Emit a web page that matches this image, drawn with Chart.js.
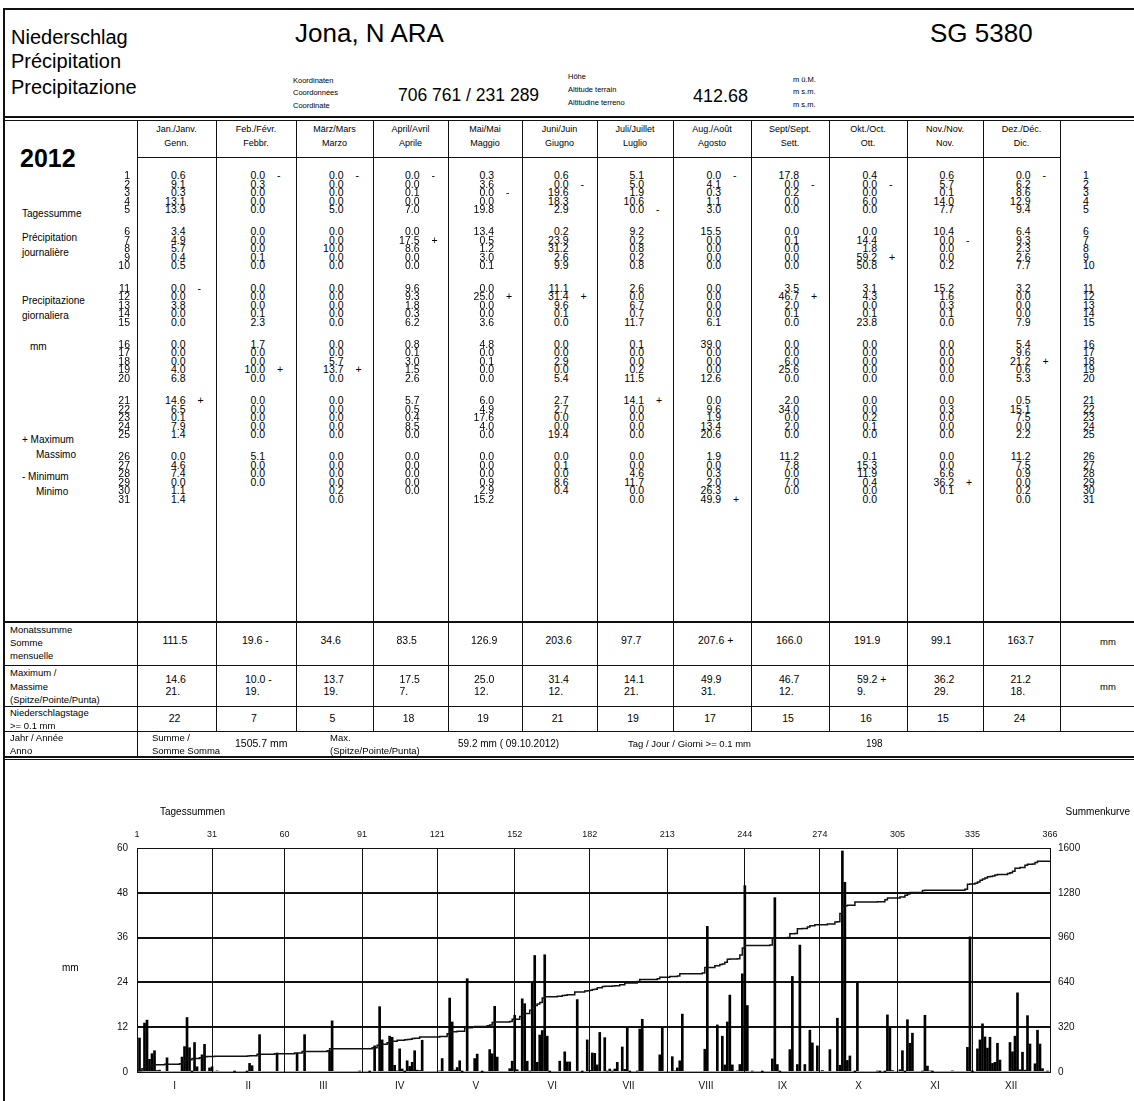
<!DOCTYPE html>
<html>
<head>
<meta charset="utf-8">
<script src="https://cdn.jsdelivr.net/npm/chart.js@4.4.0/dist/chart.umd.min.js"></script>
<style>
  body { margin: 0; background: #fff; }
  #page { position: relative; width: 1134px; height: 1101px; overflow: hidden;
          font-family: 'Liberation Sans', Arial, sans-serif; color: #000; }
  .t { position: absolute; white-space: nowrap; line-height: 1; }
  .l { position: absolute; background: #111; }
  #chartBox { position: absolute; left: 0; top: 770px; width: 1134px; height: 331px; }
</style>
</head>
<body>
<div id="page">
  <div id="chartBox"><canvas id="niederschlagChart" width="1134" height="331"></canvas></div>
</div>
<script>
// Tagessummen 2012 (mm), je Monat
const jan = [0.6, 9.1, 0.3, 13.1, 13.9, 3.4, 4.9, 5.7, 0.4, 0.5, 0.0, 0.0, 3.8, 0.0, 0.0, 0.0, 0.0, 0.0, 4.0, 6.8, 14.6, 6.5, 0.1, 7.9, 1.4, 0.0, 4.6, 7.4, 0.0, 1.1, 1.4];
const feb = [0.0, 0.3, 0.0, 0.0, 0.0, 0.0, 0.0, 0.0, 0.1, 0.0, 0.0, 0.0, 0.0, 0.1, 2.3, 1.7, 0.0, 0.0, 10.0, 0.0, 0.0, 0.0, 0.0, 0.0, 0.0, 5.1, 0.0, 0.0, 0.0];
const mar = [0.0, 0.0, 0.0, 0.0, 5.0, 0.0, 0.0, 10.0, 0.0, 0.0, 0.0, 0.0, 0.0, 0.0, 0.0, 0.0, 0.0, 5.7, 13.7, 0.0, 0.0, 0.0, 0.0, 0.0, 0.0, 0.0, 0.0, 0.0, 0.0, 0.2, 0.0];
const apr = [0.0, 0.0, 0.1, 0.0, 7.0, 0.0, 17.5, 8.6, 0.0, 0.0, 9.6, 9.3, 1.8, 0.3, 6.2, 0.8, 0.1, 3.0, 1.5, 2.6, 5.7, 0.5, 0.4, 8.5, 0.0, 0.0, 0.0, 0.0, 0.0, 0.0];
const may = [0.3, 3.6, 0.0, 0.0, 19.8, 13.4, 0.5, 1.2, 3.0, 0.1, 0.0, 25.0, 0.0, 0.0, 3.6, 4.8, 0.0, 0.1, 0.0, 0.0, 6.0, 4.9, 17.6, 4.0, 0.0, 0.0, 0.0, 0.0, 0.9, 2.9, 15.2];
const jun = [0.6, 0.0, 19.6, 18.3, 2.9, 0.2, 23.9, 31.2, 2.6, 9.9, 11.1, 31.4, 9.6, 0.1, 0.0, 0.0, 0.0, 2.9, 0.0, 5.4, 2.7, 2.7, 0.0, 0.0, 19.4, 0.0, 0.1, 0.0, 8.6, 0.4];
const jul = [5.1, 5.0, 1.9, 10.6, 0.0, 9.2, 0.2, 0.8, 0.2, 0.8, 2.6, 0.0, 6.7, 0.7, 11.7, 0.1, 0.0, 0.0, 0.2, 11.5, 14.1, 0.0, 0.0, 0.0, 0.0, 0.0, 0.0, 4.6, 11.7, 0.0, 0.0];
const aug = [0.0, 4.1, 0.3, 1.1, 3.0, 15.5, 0.0, 0.0, 0.0, 0.0, 0.0, 0.0, 0.0, 0.0, 6.1, 39.0, 0.0, 0.0, 0.0, 12.6, 0.0, 9.6, 1.9, 13.4, 20.6, 1.9, 0.0, 0.3, 2.0, 26.3, 49.9];
const sep = [17.8, 0.0, 0.2, 0.0, 0.0, 0.0, 0.1, 0.0, 0.0, 0.0, 3.5, 46.7, 2.0, 0.1, 0.0, 0.0, 0.0, 6.0, 25.6, 0.0, 2.0, 34.0, 0.0, 2.0, 0.0, 11.2, 7.8, 0.0, 7.0, 0.0];
const oct = [0.4, 0.0, 0.0, 6.0, 0.0, 0.0, 14.4, 1.8, 59.2, 50.8, 3.1, 4.3, 0.0, 0.1, 23.8, 0.0, 0.0, 0.0, 0.0, 0.0, 0.0, 0.0, 0.2, 0.1, 0.0, 0.1, 15.3, 11.9, 0.4, 0.0, 0.0];
const nov = [0.6, 5.7, 0.1, 14.0, 7.7, 10.4, 0.0, 0.0, 0.0, 0.2, 15.2, 1.6, 0.3, 0.1, 0.0, 0.0, 0.0, 0.0, 0.0, 0.0, 0.0, 0.3, 0.0, 0.0, 0.0, 0.0, 0.0, 6.6, 36.2, 0.1];
const dec = [0.0, 6.2, 8.6, 12.9, 9.4, 6.4, 9.3, 2.3, 2.6, 7.7, 3.2, 0.0, 0.0, 0.0, 7.9, 5.4, 9.6, 21.2, 0.6, 5.3, 0.5, 15.1, 7.5, 0.0, 2.2, 11.2, 7.5, 0.9, 0.0, 0.2, 0.0];
const monthValues = [jan, feb, mar, apr, may, jun, jul, aug, sep, oct, nov, dec];

const monthHeads = [
  ['Jan./Janv.', 'Genn.'], ['Feb./Févr.', 'Febbr.'], ['März/Mars', 'Marzo'], ['April/Avril', 'Aprile'],
  ['Mai/Mai', 'Maggio'], ['Juni/Juin', 'Giugno'], ['Juli/Juillet', 'Luglio'], ['Aug./Août', 'Agosto'],
  ['Sept/Sept.', 'Sett.'], ['Okt./Oct.', 'Ott.'], ['Nov./Nov.', 'Nov.'], ['Dez./Déc.', 'Dic.']
];
const monthSums = ['111.5', '19.6', '34.6', '83.5', '126.9', '203.6', '97.7', '207.6', '166.0', '191.9', '99.1', '163.7'];
const monthSumMarks = ['', '-', '', '', '', '', '', '+', '', '', '', ''];
const monthMax = ['14.6', '10.0', '13.7', '17.5', '25.0', '31.4', '14.1', '49.9', '46.7', '59.2', '36.2', '21.2'];
const monthMaxDay = ['21.', '19.', '19.', '7.', '12.', '12.', '21.', '31.', '12.', '9.', '29.', '18.'];
const monthMaxMarks = ['', '-', '', '', '', '', '', '', '', '+', '', ''];
const rainDays = [22, 7, 5, 18, 19, 21, 19, 17, 15, 16, 15, 24];

// Achsen der Grafik
const dayTicks = [1, 31, 60, 91, 121, 152, 182, 213, 244, 274, 305, 335, 366];
const romanLabels = ['I', 'II', 'III', 'IV', 'V', 'VI', 'VII', 'VIII', 'IX', 'X', 'XI', 'XII'];
const leftTicks = [0, 12, 24, 36, 48, 60];
const rightTicks = [0, 320, 640, 960, 1280, 1600];

const page = document.getElementById('page');

function txt(x, y, s, size, align, extra) {
  const d = document.createElement('div');
  d.className = 't';
  d.textContent = s;
  d.style.fontSize = size + 'px';
  d.style.top = (y - size * 0.55) + 'px';
  if (align === 'r') d.style.right = (1134 - x) + 'px';
  else if (align === 'c') { d.style.left = x + 'px'; d.style.transform = 'translateX(-50%)'; }
  else d.style.left = x + 'px';
  if (extra) Object.assign(d.style, extra);
  page.appendChild(d);
}
function line(x, y, w, h) {
  const d = document.createElement('div');
  d.className = 'l';
  Object.assign(d.style, { left: x + 'px', top: y + 'px', width: w + 'px', height: h + 'px' });
  page.appendChild(d);
}

// Rahmen und Kopf
line(3, 8, 1131, 2);
line(3, 8, 2, 1093);
line(3, 116, 1131, 2);
line(3, 120, 1131, 1);

txt(11, 38, 'Niederschlag', 20);
txt(11, 62, 'Précipitation', 20);
txt(11, 88, 'Precipitazione', 20);
txt(295, 34, 'Jona, N ARA', 26);
txt(930, 34, 'SG 5380', 26);
txt(293, 81, 'Koordinaten', 7.5);
txt(293, 93, 'Coordonnées', 7.5);
txt(293, 106, 'Coordinate', 7.5);
txt(398, 97, '706 761 / 231 289', 17.5);
txt(568, 77, 'Höhe', 7.5);
txt(568, 90, 'Altitude terrain', 7.5);
txt(568, 103, 'Altitudine terreno', 7.5);
txt(693, 97, '412.68', 18);
txt(793, 80, 'm ü.M.', 7.5);
txt(793, 92, 'm s.m.', 7.5);
txt(793, 105, 'm s.m.', 7.5);

// Tabelle
const colEdges = [137, 216, 296, 373, 448, 522, 597, 673, 751, 829, 907, 983, 1060];
colEdges.forEach(x => line(x, 120, 1, 612));
line(137, 732, 1, 26);
line(137, 157, 923, 1);

txt(20, 160, '2012', 25, 'l', { fontWeight: 'bold' });

function rowY(d) {
  const g = Math.min(Math.floor((d - 1) / 5), 5);
  return 176 + g * 56.2 + (d - 1 - g * 5) * 8.5;
}
for (let d = 1; d <= 31; d++) {
  txt(130, rowY(d), String(d), 10.5, 'r');
  txt(1083, rowY(d), String(d), 10.5);
}

txt(22, 214, 'Tagessumme', 10);
txt(22, 238, 'Précipitation', 10);
txt(22, 253, 'journalière', 10);
txt(22, 301, 'Precipitazione', 10);
txt(22, 316, 'giornaliera', 10);
txt(30, 347, 'mm', 10);
txt(22, 440, '+ Maximum', 10);
txt(36, 455, 'Massimo', 10);
txt(22, 477, '- Minimum', 10);
txt(36, 492, 'Minimo', 10);

monthValues.forEach((vals, m) => {
  const c = (colEdges[m] + colEdges[m + 1]) / 2;
  txt(c, 130, monthHeads[m][0], 9, 'c');
  txt(c, 144, monthHeads[m][1], 9, 'c');
  const maxV = Math.max(...vals);
  const minV = Math.min(...vals);
  const iMax = vals.indexOf(maxV);
  const iMin = vals.indexOf(minV);
  vals.forEach((v, i) => {
    const y = rowY(i + 1);
    txt(c + 9, y, v.toFixed(1), 10.5, 'r');
    if (i === iMax) txt(c + 21, y, '+', 10.5);
    if (i === iMin) txt(c + 21, y, '-', 10.5);
  });
  // Zusammenfassung
  txt(c - 14, 641, monthSums[m] + (monthSumMarks[m] ? '   ' + monthSumMarks[m] : ''), 10.5);
  txt(c - 11, 680, monthMax[m] + (monthMaxMarks[m] ? '   ' + monthMaxMarks[m] : ''), 10.5);
  txt(c - 11, 692, monthMaxDay[m], 10.5);
  txt(c - 2, 719, String(rainDays[m]), 10.5, 'c');
});

line(3, 621, 1131, 2);
line(3, 665, 1131, 1);
line(3, 706, 1131, 1);
line(3, 731, 1131, 1);
line(3, 756, 1131, 2);
line(3, 759, 1131, 1);

txt(10, 630, 'Monatssumme', 9.5);
txt(10, 643, 'Somme', 9.5);
txt(10, 656, 'mensuelle', 9.5);
txt(1100, 642, 'mm', 9.5);
txt(10, 673, 'Maximum /', 9.5);
txt(10, 687, 'Massime', 9.5);
txt(10, 700, '(Spitze/Pointe/Punta)', 9.5);
txt(1100, 687, 'mm', 9.5);
txt(10, 713, 'Niederschlagstage', 9.5);
txt(10, 726, '>= 0.1 mm', 9.5);
txt(10, 738, 'Jahr / Année', 9.5);
txt(10, 751, 'Anno', 9.5);
txt(152, 738, 'Summe /', 9.5);
txt(152, 751, 'Somme   Somma', 9.5);
txt(235, 744, '1505.7    mm', 10.5);
txt(330, 738, 'Max.', 9.5);
txt(330, 751, '(Spitze/Pointe/Punta)', 9.5);
txt(458, 744, '59.2  mm ( 09.10.2012)', 10);
txt(628, 744, 'Tag / Jour / Giorni >= 0.1 mm', 9.5);
txt(866, 744, '198', 10);

// Grafik-Beschriftungen
txt(160, 812, 'Tagessummen', 10);
txt(1130, 812, 'Summenkurve', 10, 'r');
txt(62, 968, 'mm', 10);

// Grafik
const allDays = monthValues.flat();
let running = 0;
const barPoints = allDays.map((v, i) => ({ x: i + 1, y: v }));
const sumPoints = allDays.map((v, i) => { running += v; return { x: i + 1, y: Math.round(running * 10) / 10 }; });
const monthMids = dayTicks.slice(0, -1).map((t, i) => (t + dayTicks[i + 1]) / 2);

const tickFont = { family: "'Liberation Sans', Arial, sans-serif", size: 10 };
const ink = '#111';

new Chart(document.getElementById('niederschlagChart'), {
  type: 'bar',
  data: {
    datasets: [
      {
        type: 'line',
        label: 'Summenkurve',
        data: sumPoints,
        yAxisID: 'y2',
        xAxisID: 'x',
        stepped: 'after',
        borderColor: ink,
        borderWidth: 1.5,
        pointRadius: 0,
        order: 0
      },
      {
        label: 'Tagessummen',
        data: barPoints,
        yAxisID: 'y',
        xAxisID: 'x',
        backgroundColor: '#000',
        barThickness: 2,
        order: 1
      }
    ]
  },
  options: {
    responsive: false,
    animation: false,
    layout: { padding: 0 },
    plugins: { legend: { display: false }, tooltip: { enabled: false } },
    scales: {
      x: {
        type: 'linear',
        position: 'bottom',
        min: 1,
        max: 366,
        offset: false,
        grid: { display: false, offset: false },
        border: { display: true, color: ink, width: 1 },
        afterBuildTicks: s => { s.ticks = monthMids.map(v => ({ value: v })); },
        ticks: { autoSkip: false, maxRotation: 0, padding: 0, color: ink, font: tickFont,
                 callback: (v, i) => romanLabels[i] },
        afterFit: s => { s.height = 29; }
      },
      xTop: {
        type: 'linear',
        position: 'top',
        min: 1,
        max: 366,
        offset: false,
        grid: { color: ink, lineWidth: 1, drawTicks: false, offset: false },
        border: { display: true, color: ink, width: 1 },
        afterBuildTicks: s => { s.ticks = dayTicks.map(v => ({ value: v })); },
        ticks: { autoSkip: false, maxRotation: 0, padding: 8, color: ink, font: { ...tickFont, size: 9 },
                 callback: v => String(v) },
        afterFit: s => { s.height = 78; }
      },
      y: {
        position: 'left',
        min: 0,
        max: 60,
        afterBuildTicks: s => { s.ticks = leftTicks.map(v => ({ value: v })); },
        grid: { drawTicks: false, lineWidth: 2,
                color: c => (c.tick.value === 0 || c.tick.value === 60) ? 'rgba(0,0,0,0)' : ink },
        border: { display: true, color: ink, width: 1 },
        ticks: { padding: 9, color: ink, font: tickFont, callback: v => String(v) },
        afterFit: s => { s.width = 137; }
      },
      y2: {
        position: 'right',
        min: 0,
        max: 1600,
        afterBuildTicks: s => { s.ticks = rightTicks.map(v => ({ value: v })); },
        grid: { display: false, drawTicks: false },
        border: { display: true, color: ink, width: 1 },
        ticks: { padding: 8, color: ink, font: tickFont, callback: v => String(v) },
        afterFit: s => { s.width = 84; }
      }
    }
  }
});
</script>
</body>
</html>
